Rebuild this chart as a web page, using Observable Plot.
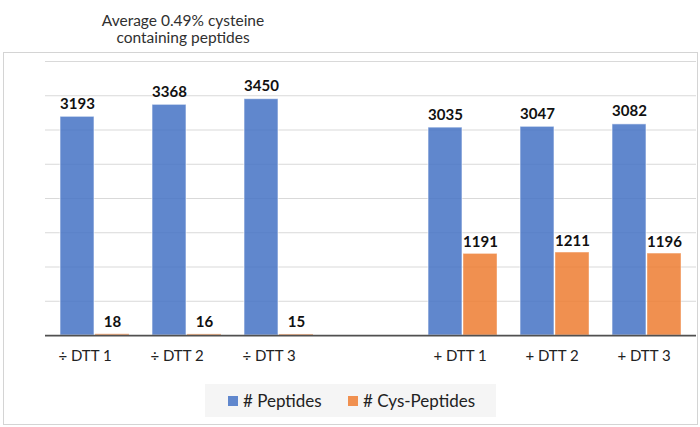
<!DOCTYPE html>
<html>
<head>
<meta charset="utf-8">
<script src="https://cdn.jsdelivr.net/npm/d3@7"></script>
<script src="https://cdn.jsdelivr.net/npm/@observablehq/plot@0.6"></script>
<style>
  html, body { margin: 0; padding: 0; background: #fff; }
  body { width: 700px; height: 427px; position: relative; overflow: hidden; font-family: Lato, "Open Sans", sans-serif; }
  #title { position: absolute; left: 73px; width: 220px; top: 12px; text-align: center; font-size: 15.5px; line-height: 17px; color: #303030; }
  #frame { position: absolute; left: 3px; top: 52px; width: 693px; height: 371px; border: 1px solid #d4d4d4; pointer-events: none; }
  #chart { position: absolute; left: 0; top: 0; }
  #legend { position: absolute; left: 205px; top: 384px; width: 291px; height: 33px; background: #f5f5f5; font-size: 17px; color: #222; }
  .item { position: absolute; top: 0; height: 33px; line-height: 33px; white-space: nowrap; }
  .sw { position: absolute; width: 10px; height: 10px; top: 12px; }
  .lab { position: absolute; left: 15px; top: 0; }
</style>
</head>
<body>
<div id="title">Average 0.49% cysteine<br>containing peptides</div>
<div id="chart"></div>
<div id="frame"></div>
<div id="legend">
  <div class="item" style="left:23px"><div class="sw" style="background:#6087cd"></div><span class="lab"># Peptides</span></div>
  <div class="item" style="left:143px"><div class="sw" style="background:#f09050"></div><span class="lab"># Cys-Peptides</span></div>
</div>
<script>
const categories = ["÷ DTT 1", "÷ DTT 2", "÷ DTT 3", "+ DTT 1", "+ DTT 2", "+ DTT 3"];
const peptides = [3193, 3368, 3450, 3035, 3047, 3082];
const cysPeptides = [18, 16, 15, 1191, 1211, 1196];
const xSlots = ["÷ DTT 1", "÷ DTT 2", "÷ DTT 3", " ", "+ DTT 1", "+ DTT 2", "+ DTT 3"];
const yTicks = [500, 1000, 1500, 2000, 2500, 3000, 3500, 4000];

const rows = categories.map((c, i) => ({cat: c, pep: peptides[i], cys: cysPeptides[i]}));
const blue = "#4472C4", orange = "#ED7D31";
const half = 17.5;

const plot = Plot.plot({
  width: 700,
  height: 380,
  marginLeft: 45,
  marginRight: 4,
  marginTop: 61,
  marginBottom: 45,
  style: {background: "transparent", fontFamily: "Lato, 'Open Sans', sans-serif"},
  x: {type: "band", domain: xSlots, paddingInner: 0.247, paddingOuter: 0.124, axis: null},
  y: {domain: [0, 4000], axis: null},
  marks: [
    Plot.ruleY(yTicks, {stroke: "#d9d9d9", strokeWidth: 1}),
    Plot.barY(rows, {x: "cat", y: "pep", fill: blue, fillOpacity: 0.85, insetRight: 35, stroke: "#ffffff", strokeOpacity: 0.6, strokeWidth: 1}),
    Plot.barY(rows, {x: "cat", y: "cys", fill: orange, fillOpacity: 0.85, insetLeft: 35, stroke: "#ffffff", strokeOpacity: 0.4, strokeWidth: 1}),
    Plot.ruleY([0], {stroke: "#505050", strokeWidth: 1.75}),
    Plot.text(rows, {x: "cat", y: "pep", text: d => String(d.pep), dx: -half, dy: -8, lineAnchor: "bottom", fontWeight: "bold", fontSize: 15, fill: "#111"}),
    Plot.text(rows, {x: "cat", y: "cys", text: d => String(d.cys), dx: half, dy: -7, lineAnchor: "bottom", fontWeight: "bold", fontSize: 15, fill: "#111"}),
    Plot.text(categories.slice(0, 3), {x: d => d, y: () => 0, text: d => d, dx: -10, dy: 21, fontSize: 15, fill: "#222"}),
    Plot.text(categories.slice(3), {x: d => d, y: () => 0, text: d => d, dx: -3, dy: 21, fontSize: 15, fill: "#222"})
  ]
});
document.getElementById("chart").appendChild(plot);
</script>
</body>
</html>
